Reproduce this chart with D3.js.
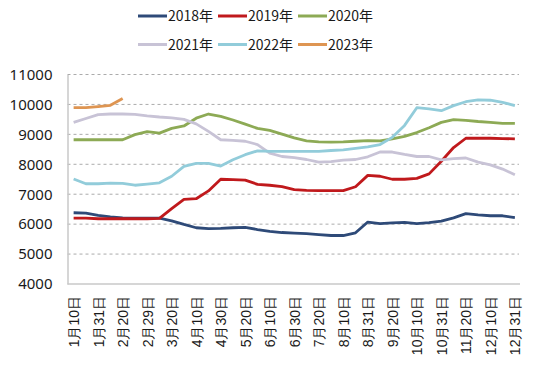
<!DOCTYPE html>
<html>
<head>
<meta charset="utf-8">
<script src="https://cdn.jsdelivr.net/npm/d3@7"></script>
<style>
  body { margin: 0; background: #fff; }
  svg { display: block; font-family: "Noto Sans CJK SC", "Noto Sans", sans-serif; }
</style>
</head>
<body>
<svg id="chart"></svg>
<script>
// dates (10-day points), labels shown every other point
const dates = ['1月10日', '1月20日', '1月31日', '2月10日', '2月20日', '2月28日', '2月29日',
  '3月10日', '3月20日', '3月31日', '4月10日', '4月20日', '4月30日', '5月10日', '5月20日',
  '5月31日', '6月10日', '6月20日', '6月30日', '7月10日', '7月20日', '7月31日', '8月10日',
  '8月20日', '8月31日', '9月10日', '9月20日', '9月30日', '10月10日', '10月20日', '10月31日',
  '11月10日', '11月20日', '11月30日', '12月10日', '12月20日', '12月31日'];

const years = ['2018年', '2019年', '2020年', '2021年', '2022年', '2023年'];
const colors = ['#2E4A78', '#C0191C', '#8DAA55', '#C8C3D6', '#92CCDA', '#DE9552'];

const y2018 = [6380, 6370, 6290, 6240, 6210, 6200, 6200, 6200, 6110, 5990, 5880, 5850, 5860,
  5880, 5890, 5820, 5760, 5720, 5700, 5680, 5650, 5620, 5620, 5710, 6070, 6020, 6040, 6060,
  6020, 6050, 6100, 6210, 6350, 6310, 6280, 6280, 6220];
const y2019 = [6200, 6200, 6180, 6180, 6180, 6180, 6180, 6190, 6520, 6830, 6850, 7110, 7500,
  7490, 7470, 7330, 7300, 7250, 7150, 7130, 7120, 7120, 7120, 7250, 7630, 7600, 7500, 7500,
  7530, 7680, 8100, 8560, 8870, 8870, 8870, 8860, 8850];
const y2020 = [8820, 8820, 8820, 8820, 8820, 8990, 9090, 9040, 9200, 9280, 9540, 9680, 9600,
  9480, 9340, 9200, 9130, 9010, 8880, 8780, 8750, 8740, 8750, 8770, 8790, 8780, 8850, 8930,
  9060, 9220, 9400, 9490, 9470, 9430, 9400, 9370, 9370];
const y2021 = [9400, 9530, 9660, 9680, 9680, 9670, 9620, 9580, 9550, 9500, 9350, 9100, 8820,
  8800, 8770, 8660, 8370, 8260, 8220, 8160, 8070, 8090, 8140, 8160, 8250, 8410, 8410, 8330,
  8260, 8260, 8150, 8190, 8210, 8070, 7980, 7840, 7650];
const y2022 = [7510, 7350, 7350, 7370, 7360, 7300, 7340, 7380, 7600, 7930, 8030, 8030, 7940,
  8150, 8320, 8450, 8430, 8430, 8430, 8430, 8430, 8460, 8480, 8530, 8580, 8660, 8900, 9300,
  9890, 9850, 9790, 9960, 10090, 10150, 10140, 10070, 9960];
const y2023 = [9890, 9890, 9930, 9970, 10200];

const yTicks = [4000, 5000, 6000, 7000, 8000, 9000, 10000, 11000];

const series = [y2018, y2019, y2020, y2021, y2022, y2023];

const width = 550;
const height = 373;
const plot = { left: 67.5, right: 521, top: 74.5, bottom: 284 };

const svg = d3.select('#chart')
  .attr('width', width)
  .attr('height', height);

const x = d3.scalePoint()
  .domain(dates)
  .range([plot.left, plot.right])
  .padding(0.5);

const y = d3.scaleLinear()
  .domain([4000, 11000])
  .range([plot.bottom, plot.top]);

// gridlines
svg.append('g')
  .selectAll('line')
  .data(yTicks.filter(d => d > 4000))
  .enter()
  .append('line')
  .attr('x1', plot.left)
  .attr('x2', plot.right - 2)
  .attr('y1', d => y(d))
  .attr('y2', d => y(d))
  .attr('stroke', '#ABABAB')
  .attr('stroke-width', 1)
  .attr('stroke-dasharray', '3,3');

// y axis
const yAxis = svg.append('g')
  .attr('transform', `translate(${plot.left},0)`)
  .call(d3.axisLeft(y).tickValues(yTicks).tickSize(0).tickPadding(15).tickFormat(d3.format('d')));
yAxis.select('.domain').attr('stroke', '#C8C8C8').attr('stroke-width', 1.5);
yAxis.selectAll('text')
  .attr('fill', '#1a1a1a')
  .style('font-size', '15px')
  .style('font-family', '"Noto Sans", sans-serif');

// x axis
const xAxis = svg.append('g')
  .attr('transform', `translate(0,${plot.bottom})`)
  .call(d3.axisBottom(x).tickValues(dates.filter((d, i) => i % 2 === 0)).tickSize(0));
xAxis.select('.domain').attr('stroke', '#C8C8C8').attr('stroke-width', 1.5)
  .attr('d', `M${plot.left},0H${plot.right - 1}`);
xAxis.selectAll('text')
  .attr('transform', 'rotate(-90)')
  .attr('x', -12)
  .attr('y', 0)
  .attr('dy', '0.35em')
  .style('text-anchor', 'end')
  .attr('fill', '#1a1a1a')
  .style('font-size', '14px');

// lines
const line = d3.line()
  .x((d, i) => x(dates[i]))
  .y(d => y(d));

svg.append('g')
  .selectAll('path')
  .data(series)
  .enter()
  .append('path')
  .attr('d', d => line(d))
  .attr('fill', 'none')
  .attr('stroke', (d, i) => colors[i])
  .attr('stroke-width', 2.8)
  .attr('stroke-linejoin', 'round');

// legend
const legend = svg.append('g')
  .selectAll('g')
  .data(years)
  .enter()
  .append('g')
  .attr('transform', (d, i) => `translate(${138 + (i % 3) * 80}, ${16 + Math.floor(i / 3) * 28.5})`);

legend.append('line')
  .attr('x1', 0)
  .attr('x2', 29)
  .attr('stroke', (d, i) => colors[i])
  .attr('stroke-width', 3);

legend.append('text')
  .attr('x', 30)
  .attr('dy', '0.36em')
  .attr('fill', '#1a1a1a')
  .style('font-size', '14px')
  .text(d => d);
</script>
</body>
</html>
